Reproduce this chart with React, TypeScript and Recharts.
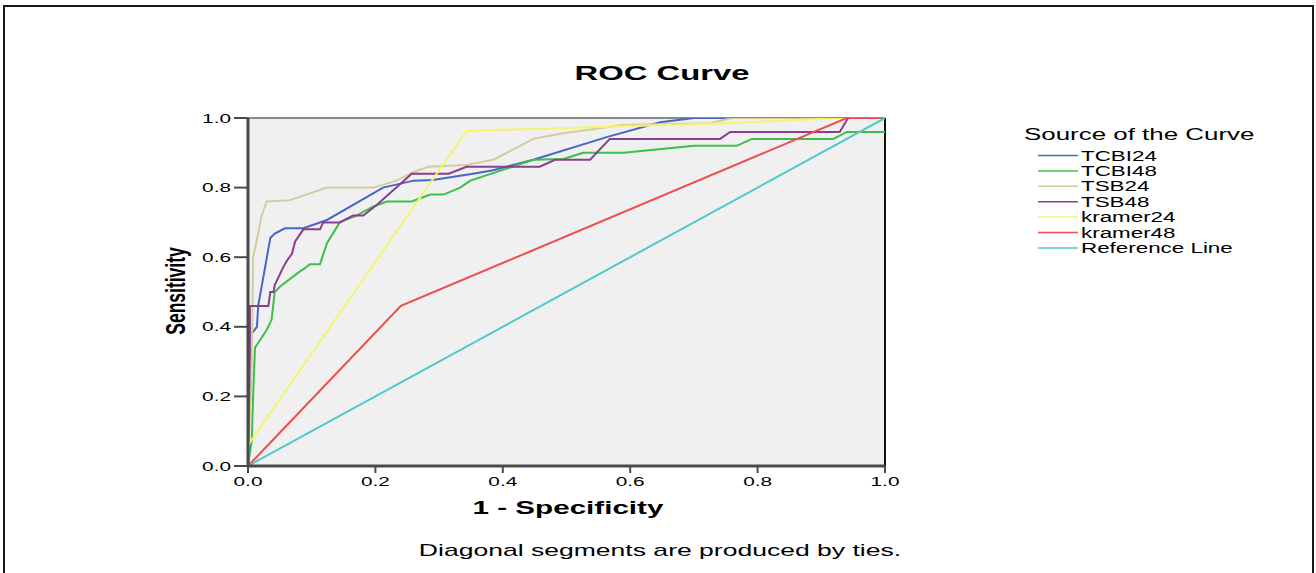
import {
  LineChart,
  Line,
  XAxis,
  YAxis,
  Legend,
  ReferenceArea,
  ReferenceLine,
} from "recharts";

// ROC points, [1 - specificity, sensitivity]
const tcbi24: [number, number][] = [
  [0, 0], [0, 0.38], [0.008, 0.385], [0.014, 0.4], [0.016, 0.46], [0.035, 0.655],
  [0.042, 0.668], [0.058, 0.683], [0.087, 0.683], [0.124, 0.707], [0.212, 0.8],
  [0.26, 0.82], [0.29, 0.822], [0.353, 0.84], [0.385, 0.85], [0.448, 0.88],
  [0.563, 0.945], [0.647, 0.988], [0.7, 1], [1, 1],
];
const tcbi48: [number, number][] = [
  [0, 0], [0.006, 0.075], [0.008, 0.2], [0.011, 0.34], [0.019, 0.362], [0.029, 0.39],
  [0.037, 0.42], [0.042, 0.5], [0.05, 0.515], [0.082, 0.56], [0.089, 0.568],
  [0.097, 0.58], [0.113, 0.58], [0.124, 0.64], [0.144, 0.7], [0.171, 0.72],
  [0.196, 0.745], [0.218, 0.76], [0.257, 0.76], [0.286, 0.78], [0.307, 0.78],
  [0.333, 0.8], [0.349, 0.82], [0.448, 0.88], [0.495, 0.882], [0.526, 0.9],
  [0.59, 0.9], [0.7, 0.92], [0.767, 0.92], [0.791, 0.94], [0.919, 0.94],
  [0.94, 0.96], [1, 0.96],
];
const tsb24: [number, number][] = [
  [0, 0], [0.004, 0.2], [0.006, 0.3], [0.008, 0.6], [0.014, 0.65], [0.021, 0.716],
  [0.029, 0.76], [0.066, 0.764], [0.124, 0.8], [0.197, 0.8], [0.233, 0.82],
  [0.26, 0.845], [0.283, 0.86], [0.343, 0.865], [0.385, 0.88], [0.448, 0.94],
  [0.49, 0.955], [0.589, 0.98], [0.725, 0.985], [0.76, 1], [1, 1],
];
const tsb48: [number, number][] = [
  [0, 0], [0.003, 0.33], [0.003, 0.46], [0.032, 0.46], [0.035, 0.5], [0.04, 0.5],
  [0.042, 0.52], [0.055, 0.57], [0.061, 0.59], [0.069, 0.61], [0.074, 0.645],
  [0.087, 0.68], [0.113, 0.68], [0.118, 0.7], [0.144, 0.7], [0.165, 0.72],
  [0.181, 0.72], [0.202, 0.75], [0.257, 0.84], [0.315, 0.84], [0.343, 0.86],
  [0.458, 0.86], [0.482, 0.88], [0.537, 0.88], [0.568, 0.94], [0.741, 0.94],
  [0.757, 0.96], [0.929, 0.96], [0.942, 1], [1, 1],
];
const kramer24: [number, number][] = [
  [0, 0], [0, 0.06], [0.343, 0.963], [0.75, 0.985], [0.93, 1], [1, 1],
];
const kramer48: [number, number][] = [
  [0, 0], [0.24, 0.46], [0.94, 1], [1, 1],
];
const referenceLine: [number, number][] = [
  [0, 0], [1, 1],
];

const AXIS_TICKS = [0, 0.2, 0.4, 0.6, 0.8, 1.0];

const series = [
  { name: "TCBI24", color: "#4667c5", pts: tcbi24 },
  { name: "TCBI48", color: "#3cbf4a", pts: tcbi48 },
  { name: "TSB24", color: "#d3cd9b", pts: tsb24 },
  { name: "TSB48", color: "#8a3d91", pts: tsb48 },
  { name: "kramer24", color: "#f6f46e", pts: kramer24 },
  { name: "kramer48", color: "#f04c4c", pts: kramer48 },
  { name: "Reference Line", color: "#4fc9c9", pts: referenceLine },
];

const FONT = "'Liberation Sans', Arial, sans-serif";
const SX = 1.6; // the picture is stretched sideways

const toPts = (arr: [number, number][]) => arr.map(([x, y]) => ({ x, y }));

function Wide({ x, y, size, bold, anchor = "start", children }: any) {
  return (
    <g transform={`translate(${x},${y}) scale(${SX},1)`}>
      <text
        fontFamily={FONT}
        fontSize={size}
        fontWeight={bold ? 700 : 400}
        textAnchor={anchor}
        fill="#000"
      >
        {children}
      </text>
    </g>
  );
}

const YTick = ({ x, y, payload }: any) => (
  <Wide x={x} y={y + 4.5} size={13} anchor="end">
    {Number(payload.value).toFixed(1)}
  </Wide>
);

const XTick = ({ x, y, payload }: any) => (
  <Wide x={x} y={y + 10} size={13} anchor="middle">
    {Number(payload.value).toFixed(1)}
  </Wide>
);

// legend keeps the series order (recharts would sort it by name)
const LegendBox = () => (
  <svg width={290} height={150} style={{ overflow: "visible" }}>
    <Wide x={14} y={25} size={16.2}>Source of the Curve</Wide>
    {series.map((s, i) => {
      const yy = 40.5 + 15.4 * i;
      return (
        <g key={s.name}>
          <line x1={28} x2={68} y1={yy} y2={yy} stroke={s.color} strokeWidth={1.5} />
          <Wide x={71} y={yy + 5} size={14}>{s.name}</Wide>
        </g>
      );
    })}
  </svg>
);

export default function App() {
  return (
    <div style={{ position: "absolute", left: 0, top: 0, width: 1316, height: 573, background: "#fff" }}>
      <LineChart width={1316} height={573} margin={{ top: 118, right: 431, bottom: 77, left: 188 }}>
        <XAxis
          type="number"
          dataKey="x"
          domain={[0, 1]}
          ticks={AXIS_TICKS}
          height={30}
          tickSize={7}
          tickMargin={3}
          axisLine={{ stroke: "#4a4a4a", strokeWidth: 3 }}
          tickLine={{ stroke: "#4a4a4a", strokeWidth: 2 }}
          tick={<XTick />}
          allowDataOverflow
        />
        <YAxis
          type="number"
          domain={[0, 1]}
          ticks={AXIS_TICKS}
          width={60}
          tickSize={14}
          tickMargin={3}
          axisLine={{ stroke: "#4a4a4a", strokeWidth: 3 }}
          tickLine={{ stroke: "#4a4a4a", strokeWidth: 2 }}
          tick={<YTick />}
          allowDataOverflow
        />
        <ReferenceArea x1={0} x2={1} y1={0} y2={1} fill="#f0f0f0" fillOpacity={1} stroke="none" />
        <ReferenceLine y={1} stroke="#8a8a8a" strokeWidth={2} />
        <ReferenceLine x={1} stroke="#111" strokeWidth={2} />
        {series.map((s) => (
          <Line
            key={s.name}
            data={toPts(s.pts)}
            dataKey="y"
            name={s.name}
            type="linear"
            stroke={s.color}
            strokeWidth={2}
            dot={false}
            activeDot={false}
            isAnimationActive={false}
          />
        ))}
        <Legend
          layout="horizontal"
          align="center"
          verticalAlign="middle"
          content={<LegendBox />}
          wrapperStyle={{ left: 1010, top: 115, width: 290, height: 150 }}
        />
      </LineChart>
      <svg
        width={1316}
        height={573}
        style={{ position: "absolute", left: 0, top: 0, pointerEvents: "none" }}
      >
        <path d="M4 573 V6 H1313 V573" fill="none" stroke="#1a1a1a" strokeWidth={2} />
        <Wide x={662} y={80} size={20.5} bold anchor="middle">ROC Curve</Wide>
        <Wide x={568} y={514} size={18.5} bold anchor="middle">1 - Specificity</Wide>
        <Wide x={660} y={556} size={16.6} anchor="middle">Diagonal segments are produced by ties.</Wide>
        <g transform={`translate(185,291) scale(${SX},1) rotate(-90)`}>
          <text fontFamily={FONT} fontSize={17.5} fontWeight={700} textAnchor="middle" fill="#000">
            Sensitivity
          </text>
        </g>
      </svg>
    </div>
  );
}
